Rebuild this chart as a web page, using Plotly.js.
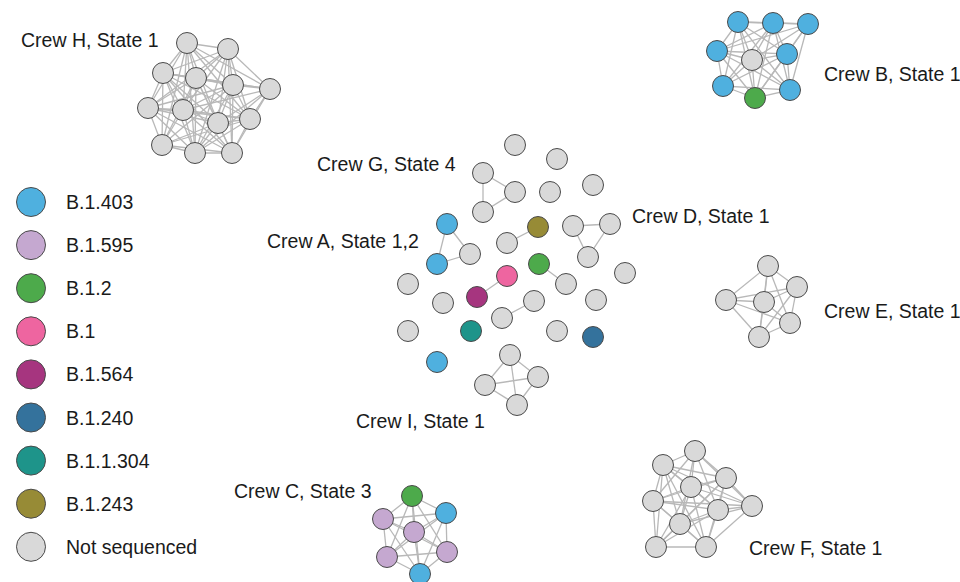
<!DOCTYPE html>
<html><head><meta charset="utf-8">
<script src="https://cdn.plot.ly/plotly-3.0.1.min.js"></script>
<style>html,body{margin:0;padding:0;background:#fff}#chart{width:960px;height:582px}</style>
</head><body><div id="chart"></div>
<script>
// Lineage categories and their colours
const lineages = ["B.1.403","B.1.595","B.1.2","B.1","B.1.564","B.1.240","B.1.1.304","B.1.243","Not sequenced"];
const lineageColors = ["#4FB0DF","#C5A8D0","#4DAA4B","#EE65A0","#A6357F","#34729C","#1E948A","#978B36","#D9D9D9"];

// Nodes (layout coordinates, in pixels)
const nodeX = [
  187,228,163,196,233,270,148,183,218,250,162,195,232,          // Crew H
  738,773,808,717,752,787,723,755,790,                          // Crew B
  768,797,726,764,790,759,                                      // Crew E
  695,663,726,691,653,752,718,680,656,706,                      // Crew F
  412,446,383,414,387,447,420,                                  // Crew C
  483,515,483,515,557,550,593,                                  // Crew G
  573,610,588,625,                                              // Crew D
  447,437,470,538,507,539,566,507,477,408,443,534,502,596,408,471,557,593,437, // Crew A
  510,485,538,517                                               // Crew I
];
const nodeY = [
  43,49,73,78,85,89,108,110,123,119,145,153,153,
  22,23,24,51,60,54,86,98,90,
  266,287,300,302,323,337,
  451,465,478,487,501,506,510,524,547,547,
  496,513,519,532,557,552,574,
  173,192,212,145,159,192,185,
  226,224,257,273,
  224,264,254,227,243,264,284,276,297,284,303,301,318,300,331,331,331,337,362,
  355,385,377,405
];
const NS = "Not sequenced";
const nodeLineage = [
  NS,NS,NS,NS,NS,NS,NS,NS,NS,NS,NS,NS,NS,
  "B.1.403","B.1.403","B.1.403","B.1.403",NS,"B.1.403","B.1.403","B.1.2","B.1.403",
  NS,NS,NS,NS,NS,NS,
  NS,NS,NS,NS,NS,NS,NS,NS,NS,NS,
  "B.1.2","B.1.403","B.1.595","B.1.595","B.1.595","B.1.595","B.1.403",
  NS,NS,NS,NS,NS,NS,NS,
  NS,NS,NS,NS,
  "B.1.403","B.1.403",NS,"B.1.243",NS,"B.1.2",NS,"B.1","B.1.564",NS,NS,NS,NS,NS,NS,"B.1.1.304",NS,"B.1.240","B.1.403",
  NS,NS,NS,NS
];

// Edges as adjacency lists (node index : neighbours)
const adjacency = [
  "0:1,2,3,4,5,6,7,8,9,10,11","1:2,3,4,5,6,7,8,9,11,12","2:3,4,5,6,7,8,9,10,11,12",
  "3:4,5,6,7,8,9,10,11,12","4:5,6,7,8,9,10,11,12","5:7,8,9,11,12","6:7,8,9,10,11,12",
  "7:8,9,10,11,12","8:9,10,11,12","9:10,11,12","10:11,12","11:12",
  "13:14,15,16,17,18,19,20,21","14:15,16,17,18,19,20,21","15:16,17,18,20,21",
  "16:17,18,19,20,21","17:18,19,20,21","18:19,20,21","19:20,21","20:21",
  "22:23,24,25,26,27","23:24,25,26,27","24:25,26,27","25:26,27","26:27",
  "28:29,30,31,32,33,34,35","29:30,31,32,33,34,35,36,37","30:31,32,33,34,35,36,37",
  "31:32,33,34,35,36,37","32:33,34,35,36,37","33:34,35,37","34:35,36,37","35:36,37","36:37",
  "38:39,40,41,42,43,44","39:40,41,42,43,44","40:41,42,43,44","41:42,43,44","42:43,44","43:44",
  "45:46,47","46:47","52:53,54","53:54","56:57,58","57:58","59:60","61:62","63:64","67:68",
  "75:76,77,78","76:77,78","77:78"
];

// Crew labels
const crewLabels = ["Crew H, State 1","Crew B, State 1","Crew G, State 4","Crew D, State 1","Crew A, State 1,2","Crew E, State 1","Crew I, State 1","Crew C, State 3","Crew F, State 1"];
const crewLabelX = [19,822,315,630,265,822,354,232,747];
const crewLabelY = [40,74,164,216,241,311,421,491,548];

// ---- build traces ----
const ex = [], ey = [];
adjacency.forEach(s => {
  const [a, rest] = s.split(":");
  rest.split(",").forEach(b => {
    const i = +a, j = +b;
    ex.push(nodeX[i], nodeX[j], null);
    ey.push(nodeY[i], nodeY[j], null);
  });
});

const traces = [{
  type: "scatter", mode: "lines", x: ex, y: ey,
  line: {color: "#B8B8B8", width: 1.3}, hoverinfo: "skip"
}];

lineages.forEach((lin, k) => {
  const xs = [], ys = [];
  nodeLineage.forEach((l, i) => { if (l === lin) { xs.push(nodeX[i]); ys.push(nodeY[i]); } });
  traces.push({
    type: "scatter", mode: "markers", x: xs, y: ys, name: lin,
    marker: {size: 21, color: lineageColors[k], line: {color: "#4a4a4a", width: 1}}
  });
});

// legend drawn as markers + labels
const legStartY = 202, legStep = 43.1, legX = 31, legTextX = 64;
traces.push({
  type: "scatter", mode: "markers",
  x: lineages.map(() => legX), y: lineages.map((_, i) => legStartY + i * legStep),
  marker: {size: 29, color: lineageColors, line: {color: "#4a4a4a", width: 1}},
  hoverinfo: "skip"
});

const font = {family: "Liberation Sans, Arial, sans-serif", size: 19.5, color: "#1a1a1a"};
const annotations = [];
crewLabels.forEach((t, i) => annotations.push({
  x: crewLabelX[i], y: crewLabelY[i], text: t, showarrow: false,
  xanchor: "left", yanchor: "middle", font: font
}));
lineages.forEach((t, i) => annotations.push({
  x: legTextX, y: legStartY + i * legStep, text: t, showarrow: false,
  xanchor: "left", yanchor: "middle", font: font
}));

const layout = {
  width: 960, height: 582,
  margin: {l: 0, r: 0, t: 0, b: 0},
  paper_bgcolor: "#fff", plot_bgcolor: "#fff",
  showlegend: false,
  xaxis: {range: [0, 960], visible: false, fixedrange: true},
  yaxis: {range: [582, 0], visible: false, fixedrange: true},
  annotations: annotations
};

Plotly.newPlot("chart", traces, layout, {displayModeBar: false, staticPlot: true});
</script>
</body></html>
